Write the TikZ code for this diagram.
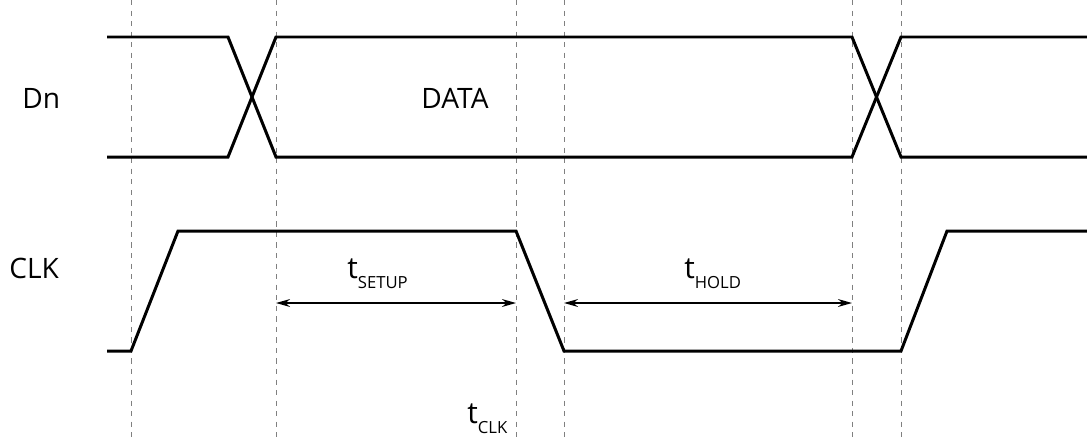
\documentclass[tikz,border=0pt]{standalone}
\usepackage{fontspec}
\setmainfont{Open Sans}
\usetikzlibrary{arrows.meta}

\newcommand{\tsub}[1]{t\raisebox{-5.7pt}{\fontsize{9.5}{11}\selectfont #1}}

\begin{document}
\begin{tikzpicture}[x=0.02cm, y=-0.02cm,
    sig/.style={line width=1.7pt, line join=miter},
    guide/.style={dashed, gray, line width=0.5pt},
    dim/.style={{Stealth[length=8pt,width=4.5pt]}-{Stealth[length=8pt,width=4.5pt]}, line width=0.8pt},
    lbl/.style={font=\fontsize{16}{19}\selectfont, inner sep=0pt}]
    \useasboundingbox (0,0) rectangle (1087,437);
    % guide lines
    \foreach \x/\n in {131/a, 276/b, 516/c, 564/d, 852/e, 901/f} {
        \draw[guide] (\x,0) -- (\x,437);
        \coordinate (g\n) at (\x,303);
    }
    % Dn
    \draw[sig] (107,37) -- (228,37) -- (276,157) -- (852,157) -- (901,37) -- (1087,37);
    \draw[sig] (107,157) -- (228,157) -- (276,37) -- (852,37) -- (901,157) -- (1087,157);
    % CLK
    \draw[sig] (107,351) -- (131,351) -- (178,231) -- (516,231) -- (564,351) -- (901,351) -- (947,231) -- (1087,231);
    \draw[dim] (gb) -- (gc);
    \draw[dim] (gd) -- (ge);
    \node[lbl, anchor=base west] (dn) at (22,108) {Dn};
    \node[lbl, anchor=base west] (clk) at (9,278) {CLK};
    \node[lbl, anchor=base] (data) at (455,108) {DATA};
    \node[lbl, font=\fontsize{17}{20}\selectfont, anchor=base west] (tsetup) at (347,278) {\tsub{SETUP}};
    \node[lbl, font=\fontsize{17}{20}\selectfont, anchor=base west] (thold) at (684,278) {\tsub{HOLD}};
    \node[lbl, font=\fontsize{17}{20}\selectfont, anchor=base west] (tclk) at (467,423) {\tsub{CLK}};
\end{tikzpicture}
\end{document}
